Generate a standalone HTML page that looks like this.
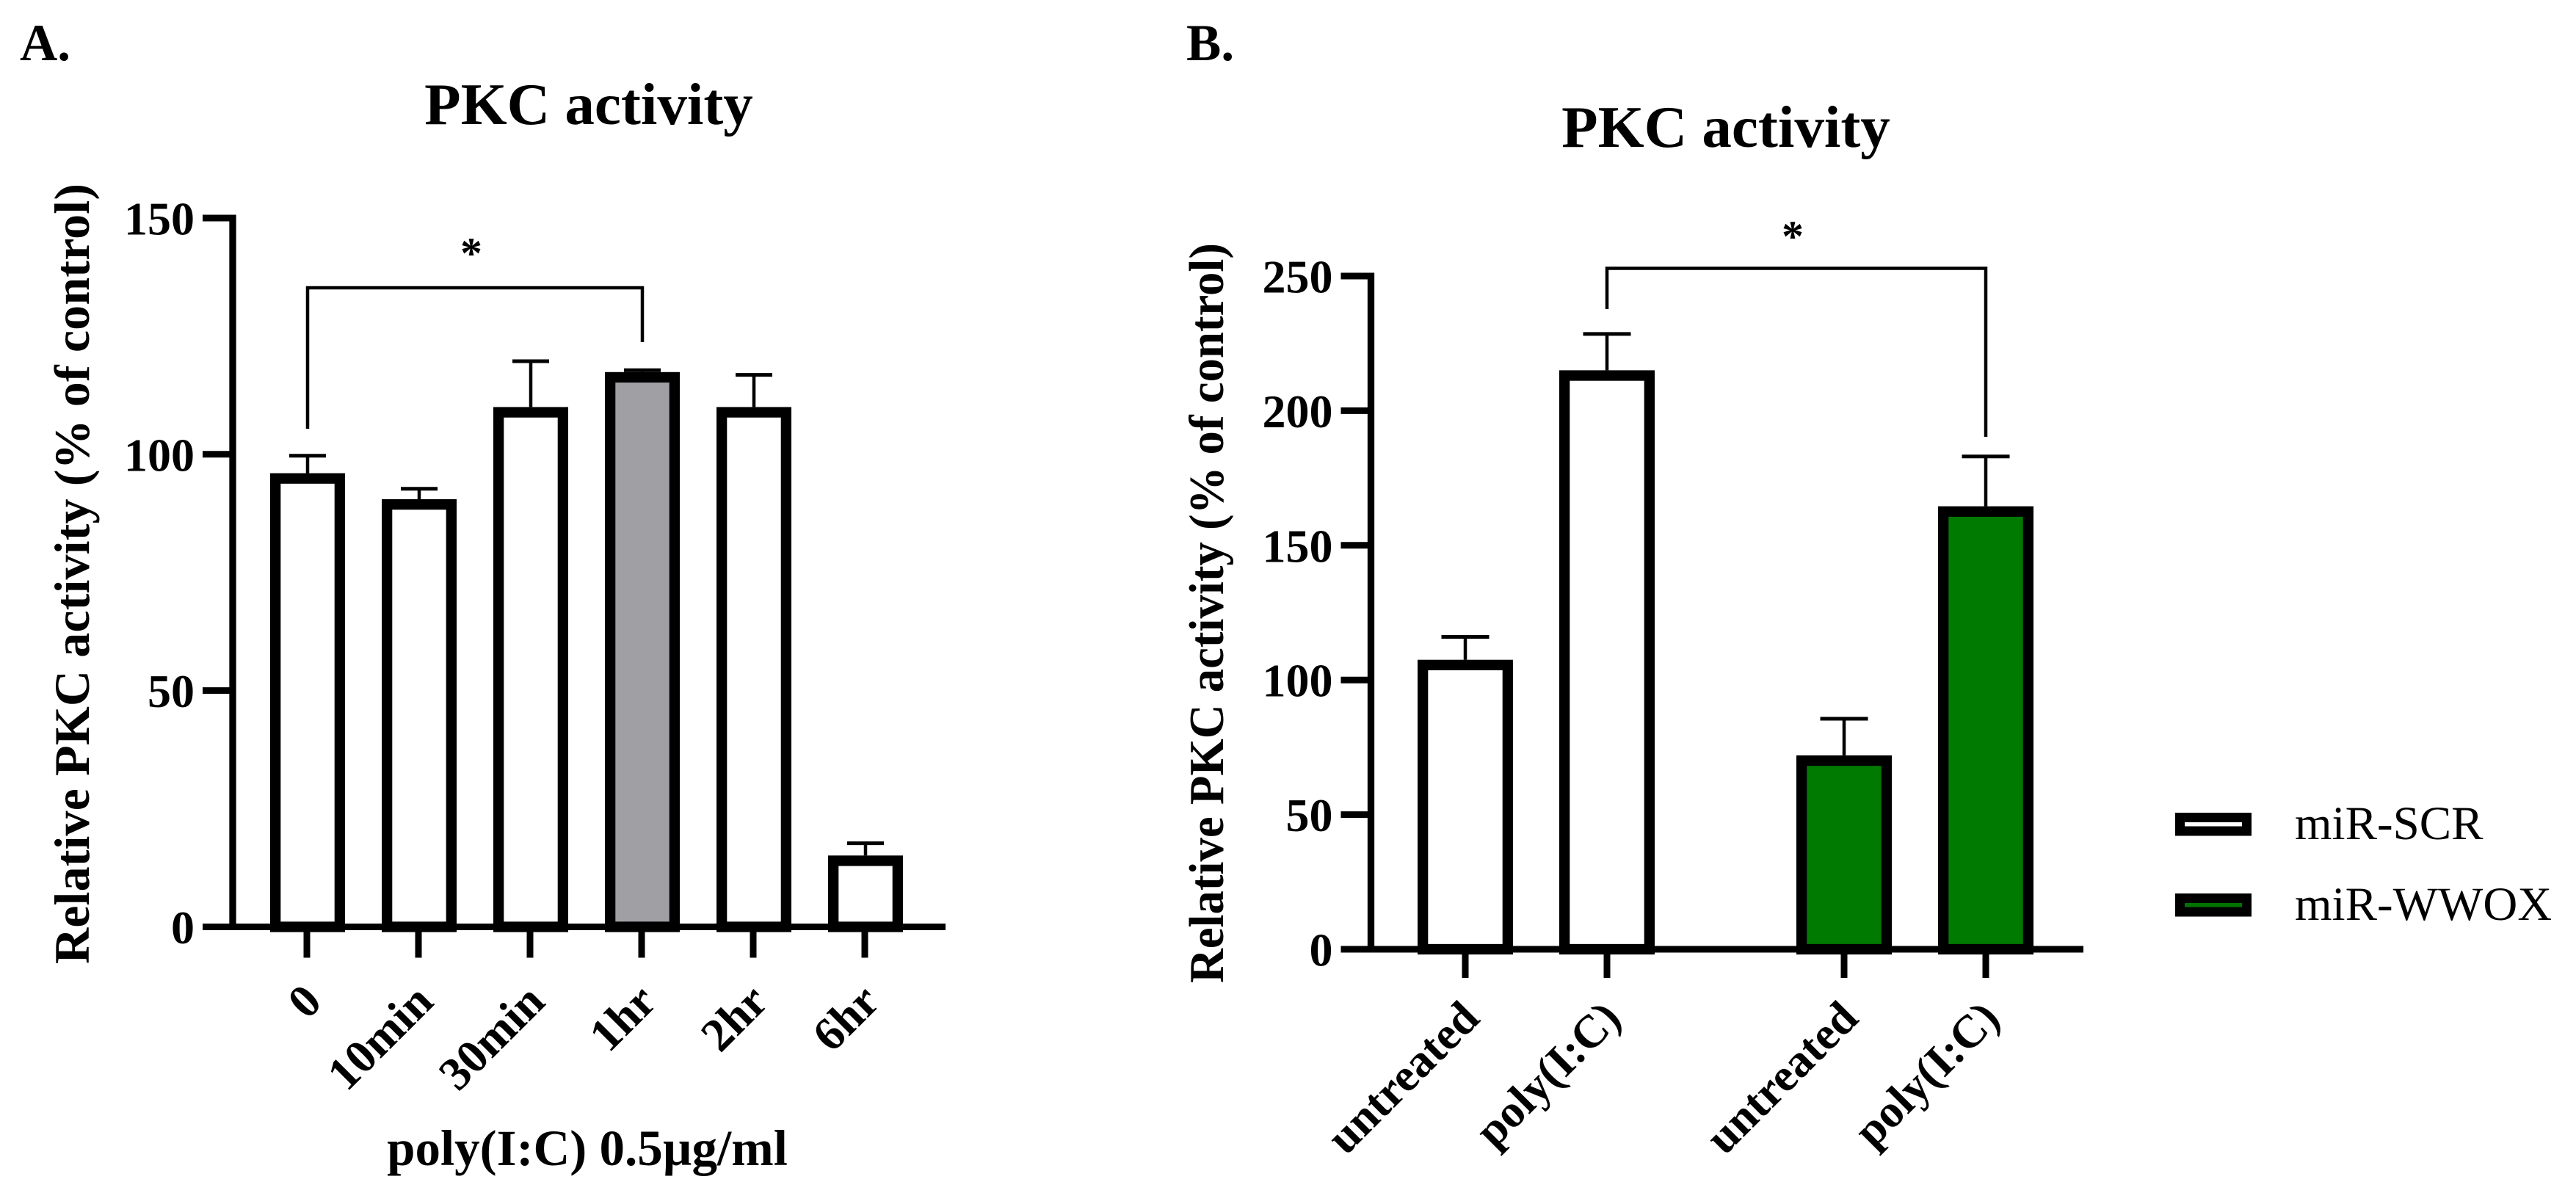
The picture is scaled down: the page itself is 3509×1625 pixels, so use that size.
<!DOCTYPE html>
<html lang="en">
<head>
<meta charset="utf-8">
<title>PKC activity charts</title>
<style>
html,body{margin:0;padding:0;background:#fff;width:3509px;height:1625px;overflow:hidden}
svg{display:block}
text{font-family:"Liberation Serif",serif;fill:#000}
.b{font-weight:bold}
</style>
</head>
<body>
<svg id="figure" xmlns="http://www.w3.org/2000/svg" width="3509" height="1625" viewBox="0 0 3509 1625">
<rect width="3509" height="1625" fill="#fff"/>
<text class="b" x="27" y="82" font-size="71">A.</text>
<text class="b" x="1616" y="82" font-size="71">B.</text>
<text class="b" x="802" y="169" font-size="81" text-anchor="middle">PKC activity</text>
<text class="b" x="2351" y="200" font-size="81" text-anchor="middle">PKC activity</text>
<text class="b" transform="translate(121 1313) rotate(-90)" font-size="68" textLength="1063" lengthAdjust="spacing">Relative PKC activity (% of control)</text>
<text class="b" transform="translate(1666 1339) rotate(-90)" font-size="67" textLength="1008" lengthAdjust="spacingAndGlyphs">Relative PKC activity (% of control)</text>
<text class="b" x="800" y="1587" font-size="69" text-anchor="middle">poly(I:C) 0.5µg/ml</text>
<g id="panel-a"></g>
<g id="panel-b"></g>
<g>
  <rect x="2969.5" y="1113.5" width="91" height="18.5" fill="#fff" stroke="#000" stroke-width="13"/>
  <text x="3126" y="1143" font-size="65">miR-SCR</text>
  <rect x="2969.5" y="1223.5" width="91" height="18.5" fill="#007300" stroke="#000" stroke-width="13"/>
  <text x="3126" y="1253" font-size="65">miR-WWOX</text>
</g>
</svg>
<script>
// Panel A data
const aCategories = ['0', '10min', '30min', '1hr', '2hr', '6hr'];
const aValues = [96, 90.5, 110, 117.4, 110, 15.1];
const aErrors = [3.7, 2.2, 9.7, 0.4, 6.8, 2.6];
const aFills = ['#fff', '#fff', '#fff', '#a0a0a4', '#fff', '#fff'];
const aTicks = [0, 50, 100, 150];
// Panel B data
const bCategories = ['untreated', 'poly(I:C)', 'untreated', 'poly(I:C)'];
const bValues = [107.5, 215, 72, 164.5];
const bErrors = [8.5, 13.5, 13.6, 18.5];
const bFills = ['#fff', '#fff', '#007a00', '#007a00'];
const bTicks = [0, 50, 100, 150, 200, 250];

const NS = 'http://www.w3.org/2000/svg';
function mk(tag, attrs, parent) {
  const el = document.createElementNS(NS, tag);
  for (const k in attrs) el.setAttribute(k, attrs[k]);
  parent.appendChild(el);
  return el;
}
function drawPanel(cfg, parent) {
  const y = v => cfg.y0 - v * cfg.unit;
  const sw = 14.3;
  const topY = y(cfg.ticks[cfg.ticks.length - 1]);
  cfg.categories.forEach((c, i) => {
    const cx = cfg.xs(i);
    const top = y(cfg.values[i]);
    const capY = y(cfg.values[i] + cfg.errors[i]);
    const stem = mk('line', {x1: cx, x2: cx, y1: capY, y2: top, stroke: '#000', 'stroke-width': 4.5}, parent);
    
    
    const cap = mk('line', {x1: cx - cfg.capW / 2, x2: cx + cfg.capW / 2, y1: capY, y2: capY, stroke: '#000', 'stroke-width': 5}, parent);
    
    
    const bar = mk('rect', {x: cx - cfg.barW / 2 + sw / 2, y: top + sw / 2, width: cfg.barW - sw, height: cfg.y0 - top - sw / 2, fill: cfg.fills[i], stroke: '#000', 'stroke-width': sw}, parent);
    
    
    const tick = mk('line', {x1: cx + cfg.tickOff, x2: cx + cfg.tickOff, y1: cfg.y0, y2: cfg.y0 + cfg.tickLen, stroke: '#000', 'stroke-width': 9}, parent);
    
    
    const lab = mk('text', {'class': 'b', 'font-size': cfg.labelSize, 'text-anchor': 'end', transform: 'translate(' + (cx + 22) + ' ' + (cfg.y0 + cfg.labelDy) + ') rotate(-45)'}, parent);
    
    
    lab.textContent = c;
  });
  const yAxis = mk('line', {x1: cfg.axisX, x2: cfg.axisX, y1: topY - 4.5, y2: cfg.y0 + 4.5, stroke: '#000', 'stroke-width': 9.3}, parent);
  
  
  const xAxis = mk('line', {x1: cfg.axisX - 41, x2: cfg.axisEnd, y1: cfg.y0, y2: cfg.y0, stroke: '#000', 'stroke-width': 9}, parent);
  
  
  cfg.ticks.forEach(t => {
    const ty = y(t);
    const tk = mk('line', {x1: cfg.axisX - 41, x2: cfg.axisX, y1: ty, y2: ty, stroke: '#000', 'stroke-width': 9}, parent);
    
    
    const tl = mk('text', {'class': 'b', x: cfg.axisX - 52, y: ty + 22.5, 'font-size': 64, 'text-anchor': 'end'}, parent);
    
    
    tl.textContent = String(t);
  });
  const bk = cfg.bracket;
  const path = mk('path', {d: 'M' + cfg.xs(bk.from) + ' ' + bk.leftEnd + 'V' + bk.top + 'H' + cfg.xs(bk.to) + 'V' + bk.rightEnd, fill: 'none', stroke: '#000', 'stroke-width': 4.5}, parent);
  
  
  const star = mk('text', {'class': 'b', x: (cfg.xs(bk.from) + cfg.xs(bk.to)) / 2 + bk.starDx, y: bk.starY, 'font-size': 60, 'text-anchor': 'middle'}, parent);
  
  
  star.textContent = '*';
}
drawPanel({
  categories: aCategories, values: aValues, errors: aErrors, fills: aFills, ticks: aTicks,
  y0: 1262.5, unit: 6.437, axisX: 317, axisEnd: 1288, barW: 102, capW: 50, tickLen: 42, tickOff: -1,
  xs: i => 419 + i * 152, labelSize: 64, labelDy: 105,
  bracket: {from: 0, to: 3, top: 392, leftEnd: 584, rightEnd: 466, starDx: -5, starY: 365}
}, document.getElementById('panel-a'));
drawPanel({
  categories: bCategories, values: bValues, errors: bErrors, fills: bFills, ticks: bTicks,
  y0: 1293, unit: 3.668, axisX: 1867.5, axisEnd: 2838, barW: 130, capW: 65, tickLen: 39, tickOff: 0,
  xs: i => [1996, 2189, 2512, 2705][i], labelSize: 63, labelDy: 97,
  bracket: {from: 1, to: 3, top: 365.5, leftEnd: 421, rightEnd: 595, starDx: -5, starY: 342}
}, document.getElementById('panel-b'));
</script>
</body>
</html>
